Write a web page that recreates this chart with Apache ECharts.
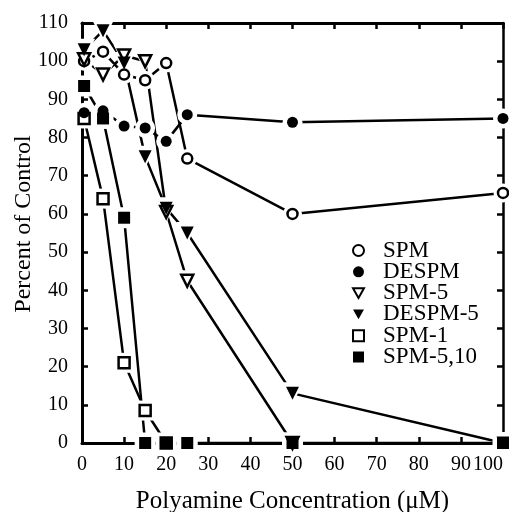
<!DOCTYPE html>
<html>
<head>
<meta charset="utf-8">
<script src="https://cdn.jsdelivr.net/npm/echarts@6/dist/echarts.min.js"></script>
<style>
html,body{margin:0;padding:0;background:#fff;}
#chart{width:509px;height:512px;}
</style>
</head>
<body>
<div id="chart"></div>
<script>
// ---- data ----
const concAll = [0.5, 5, 10, 15, 20, 25, 50, 100];
const spm      = [100, 102.5, 96.5, 95, 99.5, 74.5, 60, 65.5];
const despm    = [86.5, 87, 83, 82.5, 79, 86, 84, 85];
const spm5X    = [0.5, 5, 10, 15, 20, 25, 50];
const spm5     = [100.5, 96.5, 101.5, 100, 60.5, 42.5, 0];
const despm5   = [103, 108, 99.5, 75, 61.5, 55, 13, 0];
const spm1X    = [0.5, 5, 10, 15, 20];
const spm1     = [85, 64, 21, 8.5, 0];
const spm510X  = [0.5, 5, 10, 15, 20, 25, 50, 100];
const spm510   = [93.5, 85, 59, 0, 0, 0, 0, 0];

const FONT = 'Liberation Serif';
const DOWN_TRI = 'path://M0,0 L10,0 L5,9 Z';
const pairs = (xs, ys) => xs.map((x, i) => [x, ys[i]]);

const defs = [
  {name: 'SPM',      data: pairs(concAll, spm),    symbol: 'circle', size: 10, open: true},
  {name: 'DESPM',    data: pairs(concAll, despm),  symbol: 'circle', size: 11, open: false},
  {name: 'SPM-5',    data: pairs(spm5X, spm5),     symbol: DOWN_TRI, size: 12, open: true},
  {name: 'DESPM-5',  data: pairs(concAll, despm5), symbol: DOWN_TRI, size: 13, open: false},
  {name: 'SPM-1',    data: pairs(spm1X, spm1),     symbol: 'rect',   size: 11, open: true},
  {name: 'SPM-5,10', data: pairs(spm510X, spm510), symbol: 'rect',   size: 12, open: false}
];

const series = [];
defs.forEach(d => series.push({name: '_line_' + d.name, type: 'line', data: d.data, symbol: 'none',
    lineStyle: {color: '#000', width: 2.5}, z: 2, silent: true}));
defs.forEach(d => series.push({name: '_halo_' + d.name, type: 'scatter', data: d.data, symbol: d.symbol,
    symbolSize: d.size + 9, itemStyle: {color: '#fff', opacity: 1}, z: 3, silent: true}));
defs.forEach(d => series.push({name: d.name, type: 'scatter', data: d.data, symbol: d.symbol, symbolSize: d.size,
    itemStyle: d.open ? {color: '#fff', borderColor: '#000', borderWidth: 2.5, opacity: 1}
                      : {color: '#000', borderWidth: 0, opacity: 1}, z: d.open ? 4 : 5}));

const chart = echarts.init(document.getElementById('chart'), null, {renderer: 'canvas'});
chart.setOption({
  animation: false,
  backgroundColor: '#fff',
  grid: {left: 82, top: 23, right: 6, bottom: 69, containLabel: false, outerBoundsMode: 'none'},
  legend: {orient: 'vertical', left: 347, top: 234, itemWidth: 11, itemHeight: 11, itemGap: -1.7,
    data: defs.map(d => ({name: d.name})),
    textStyle: {fontFamily: FONT, fontSize: 23, color: '#000', lineHeight: 21.5, padding: [0, 0, 0, 14]}, selectedMode: false},
  xAxis: [{
    type: 'value', min: 0, max: 100, interval: 10,
    name: 'Polyamine Concentration (\u03bcM)', nameLocation: 'middle', nameGap: 46, nameMoveOverlap: false,
    nameTextStyle: {fontFamily: FONT, fontSize: 25, color: '#000'},
    axisLine: {show: true, onZero: false, lineStyle: {color: '#000', width: 3}},
    axisTick: {show: true, inside: true, length: 6, lineStyle: {color: '#000', width: 2.5}},
    axisLabel: {fontFamily: FONT, fontSize: 20, color: '#000', margin: 12,
      showMaxLabel: true, showMinLabel: true, hideOverlap: false, alignMaxLabel: 'right', interval: 0},
    splitLine: {show: false}
  }, {
    type: 'value', min: 0, max: 100, interval: 10, position: 'top',
    axisLine: {show: true, onZero: false, lineStyle: {color: '#000', width: 3}},
    axisTick: {show: true, inside: true, length: 6, lineStyle: {color: '#000', width: 2.5}},
    axisLabel: {show: false}, splitLine: {show: false}
  }],
  yAxis: [{
    type: 'value', min: 0, max: 110, interval: 10,
    name: 'Percent of Control', nameLocation: 'middle', nameGap: 46, nameMoveOverlap: false,
    nameTextStyle: {fontFamily: FONT, fontSize: 24, color: '#000', padding: [0, 0, 0, 18]},
    axisLine: {show: true, onZero: false, lineStyle: {color: '#000', width: 3}},
    axisTick: {show: true, inside: true, length: 6, lineStyle: {color: '#000', width: 2.5}},
    axisLabel: {fontFamily: FONT, fontSize: 20, color: '#000', margin: 14}, splitLine: {show: false}
  }, {
    type: 'value', min: 0, max: 110, interval: 10, position: 'right',
    axisLine: {show: true, onZero: false, lineStyle: {color: '#000', width: 2.5}},
    axisTick: {show: true, inside: true, length: 6, lineStyle: {color: '#000', width: 2.5}},
    axisLabel: {show: false}, splitLine: {show: false}
  }],
  series: series
});
setTimeout(() => {
  const zr = chart.getZr();
  zr.storage.getDisplayList(true, true);
  zr.refreshImmediately();
}, 100);
</script>
</body>
</html>
